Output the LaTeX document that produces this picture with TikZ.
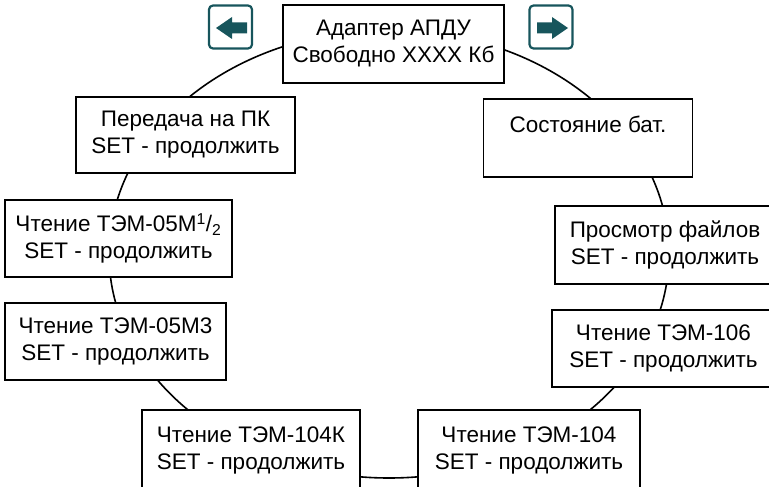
\documentclass[tikz,border=0pt]{standalone}
\usepackage{fontspec}
\setmainfont{Liberation Sans}
\usetikzlibrary{positioning}
\definecolor{btncol}{HTML}{17555C}

\begin{document}
\begin{tikzpicture}[x=1pt,y=-1pt,
    menubox/.style={draw,line width=1.7pt,fill=white,align=center,inner sep=0pt,
      font=\fontsize{22.5}{27}\selectfont},
    navbtn/.style={draw=btncol,line width=2.2pt,rounded corners=4pt,minimum size=43pt,inner sep=0pt}]
        \useasboundingbox (0,0) rectangle (769,487);
        % ring behind the menu items
        \draw[line width=1.6pt] (389,254) ellipse [x radius=280, y radius=224];

        \node[menubox, minimum width=221pt, minimum height=78pt] (adapter) at (393.5,44) {Адаптер АПДУ\\Свободно XXXX Кб};
        \node[menubox, minimum width=219pt, minimum height=76pt] (topc) at (185.5,135) {Передача на ПК\\SET - продолжить};
        \node[menubox, minimum width=209pt, minimum height=78pt] (bat) at (588,138) {Состояние бат.\\~};
        \node[menubox, minimum width=227pt, minimum height=77pt] (tem05) at (118.5,238.5) {Чтение ТЭМ-05М\textsuperscript{1}/\textsubscript{2}\\SET - продолжить};
        \node[menubox, minimum width=221pt, minimum height=77pt] (tem05m3) at (115.5,341.5) {Чтение ТЭМ-05М3\\SET - продолжить};
        \node[menubox, minimum width=220pt, minimum height=78pt] (files) at (665,245) {Просмотр файлов\\SET - продолжить};
        \node[menubox, minimum width=223pt, minimum height=77pt] (tem106) at (663.5,348.5) {Чтение ТЭМ-106\\SET - продолжить};
        \node[menubox, minimum width=218pt, minimum height=80pt] (tem104k) at (251,450) {Чтение ТЭМ-104К\\SET - продолжить};
        \node[menubox, minimum width=222pt, minimum height=80pt] (tem104) at (529,450) {Чтение ТЭМ-104\\SET - продолжить};

        % navigation buttons
        \node[navbtn] (prevbtn) at (230.5,27) {};
        \node[navbtn] (nextbtn) at (551,27) {};
        \fill[btncol] (247,22.5)--(232,22.5)--(232,17)--(216,28)--(232,39)--(232,33.5)--(247,33.5)--cycle;
        \fill[btncol] (537,22.5)--(552,22.5)--(552,17)--(568,28)--(552,39)--(552,33.5)--(537,33.5)--cycle;
\end{tikzpicture}
\end{document}
